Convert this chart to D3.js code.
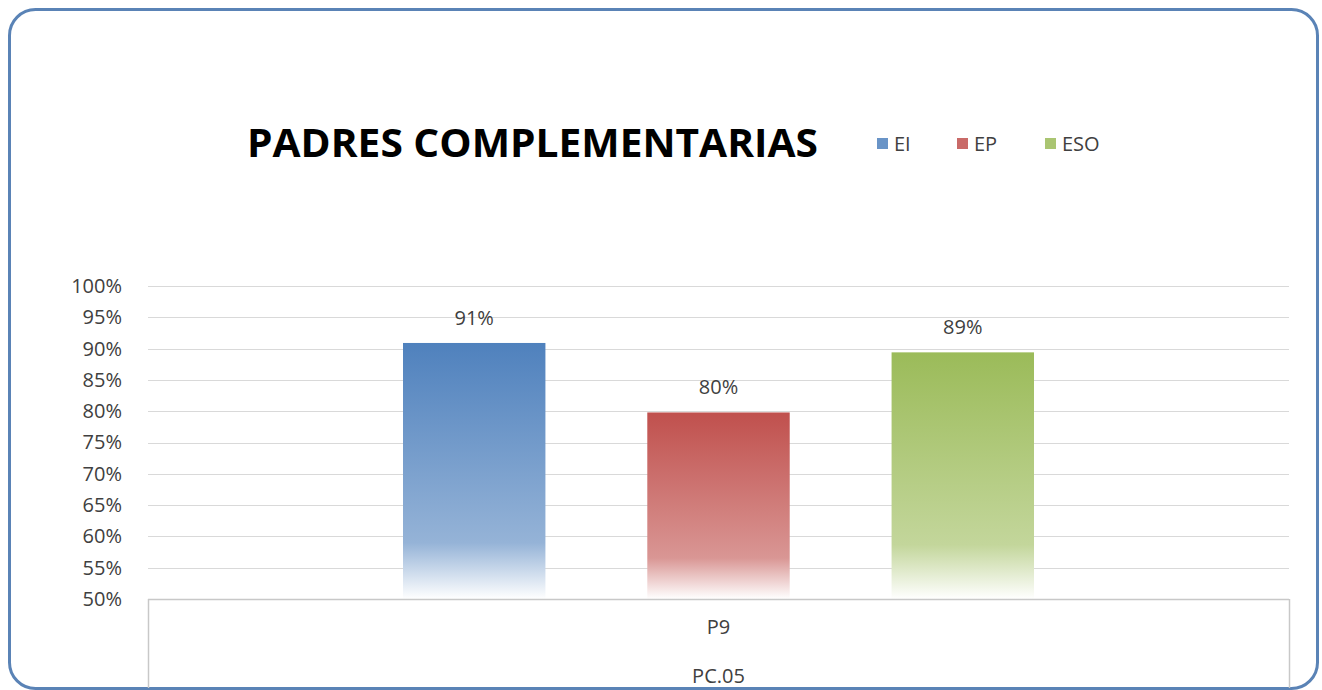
<!DOCTYPE html>
<html>
<head>
<meta charset="utf-8">
<script src="https://cdn.jsdelivr.net/npm/d3@7"></script>
<style>
  html, body { margin: 0; padding: 0; background: #ffffff; }
  svg { display: block; font-family: "Open Sans", sans-serif; }
</style>
</head>
<body>
<div id="chart"></div>
<script>
const title = "PADRES COMPLEMENTARIAS";
const series = ["EI", "EP", "ESO"];
const values = [0.909, 0.798, 0.894];
const valueLabels = ["91%", "80%", "89%"];
const category = "P9";
const group = "PC.05";
const yTicks = [0.5, 0.55, 0.6, 0.65, 0.7, 0.75, 0.8, 0.85, 0.9, 0.95, 1.0];

const colors = [
  { top: "#4f81bd", mid: "#95b3d7" },
  { top: "#c0504d", mid: "#d99694" },
  { top: "#9bbb59", mid: "#c3d69b" }
];

const W = 1322, H = 690;
const plot = { left: 148, right: 1289, top: 286, bottom: 599 };

const svg = d3.select("#chart").append("svg")
  .attr("width", W)
  .attr("height", H);

// frame
svg.append("rect")
  .attr("x", 9.5)
  .attr("y", 9.5)
  .attr("width", 1308)
  .attr("height", 679)
  .attr("rx", 26)
  .attr("fill", "#ffffff")
  .attr("stroke", "#5a83b6")
  .attr("stroke-width", 3);

const defs = svg.append("defs");
colors.forEach((c, i) => {
  const g = defs.append("linearGradient")
    .attr("id", `bar-grad-${i}`)
    .attr("x1", "0%").attr("x2", "0%")
    .attr("y1", "0%").attr("y2", "100%");
  g.append("stop").attr("offset", "0%").attr("stop-color", c.top);
  g.append("stop").attr("offset", "78%").attr("stop-color", c.mid);
  g.append("stop").attr("offset", "100%").attr("stop-color", "#ffffff");
});

const y = d3.scaleLinear()
  .domain([0.5, 1.0])
  .range([plot.bottom, plot.top]);

const x0 = d3.scaleBand()
  .domain([category])
  .range([plot.left, plot.right]);

const x1 = d3.scaleBand()
  .domain(series)
  .range([x0(category) + 255, x0(category) + x0.bandwidth() - 255])
  .paddingInner(0.417)
  .paddingOuter(0);

// gridlines
svg.append("g")
  .selectAll("line")
  .data(yTicks.slice(1))
  .join("line")
  .attr("x1", plot.left)
  .attr("x2", plot.right)
  .attr("y1", d => Math.round(y(d)) + 0.5)
  .attr("y2", d => Math.round(y(d)) + 0.5)
  .attr("stroke", "#d9d9d9")
  .attr("stroke-width", 1.2);

// y labels
const yAxis = svg.append("g")
  .attr("transform", `translate(${plot.left - 26},0)`)
  .call(d3.axisLeft(y).tickValues(yTicks).tickSize(0).tickPadding(0).tickFormat(d3.format(".0%")));
yAxis.select(".domain").remove();
yAxis.selectAll("text")
  .attr("fill", "#404040")
  .style("font-size", "20px")
  .style("font-family", "'Open Sans', sans-serif");

// bars
svg.append("g")
  .selectAll("rect")
  .data(series)
  .join("rect")
  .attr("x", d => x1(d))
  .attr("y", (d, i) => y(values[i]))
  .attr("width", x1.bandwidth())
  .attr("height", (d, i) => y(0.5) - y(values[i]))
  .attr("fill", (d, i) => `url(#bar-grad-${i})`);

// data labels
svg.append("g")
  .selectAll("text")
  .data(series)
  .join("text")
  .attr("x", d => x1(d) + x1.bandwidth() / 2)
  .attr("y", (d, i) => y(values[i]) - 18)
  .attr("text-anchor", "middle")
  .attr("fill", "#404040")
  .style("font-size", "20px")
  .text((d, i) => valueLabels[i]);

// category axis box
const axisBox = svg.append("g")
  .attr("stroke", "#c8c8c8")
  .attr("stroke-width", 1.5)
  .attr("fill", "none");
axisBox.append("line")
  .attr("x1", plot.left).attr("x2", plot.right)
  .attr("y1", plot.bottom + 0.5).attr("y2", plot.bottom + 0.5);
axisBox.append("line")
  .attr("x1", plot.left + 0.5).attr("x2", plot.left + 0.5)
  .attr("y1", plot.bottom).attr("y2", 688);
axisBox.append("line")
  .attr("x1", plot.right + 0.5).attr("x2", plot.right + 0.5)
  .attr("y1", plot.bottom).attr("y2", 688);

const cx = x0(category) + x0.bandwidth() / 2;
svg.append("text")
  .attr("x", cx)
  .attr("y", 634)
  .attr("text-anchor", "middle")
  .attr("fill", "#404040")
  .style("font-size", "20px")
  .text(category);
svg.append("text")
  .attr("x", cx)
  .attr("y", 683)
  .attr("text-anchor", "middle")
  .attr("fill", "#404040")
  .style("font-size", "20px")
  .text(group);

// title
svg.append("text")
  .attr("x", 247)
  .attr("y", 157)
  .attr("textLength", 571)
  .attr("lengthAdjust", "spacingAndGlyphs")
  .attr("fill", "#000000")
  .style("font-size", "39px")
  .style("font-weight", "700")
  .text(title);

// legend
const legendX = [877, 957, 1045];
const legend = svg.append("g");
series.forEach((s, i) => {
  legend.append("rect")
    .attr("x", legendX[i])
    .attr("y", 138)
    .attr("width", 11)
    .attr("height", 11)
    .attr("fill", colors[i].top)
    .attr("opacity", 0.85);
  legend.append("text")
    .attr("x", legendX[i] + 17)
    .attr("y", 151)
    .attr("fill", "#404040")
    .style("font-size", "20px")
    .text(s);
});
</script>
</body>
</html>
